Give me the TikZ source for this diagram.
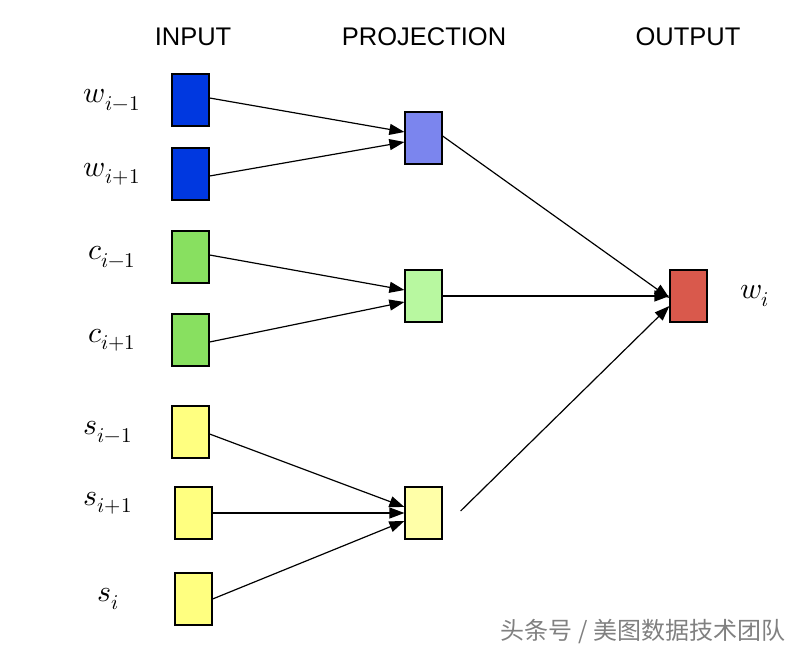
\documentclass[tikz,border=0pt]{standalone}
\usepackage{fontspec}
\setmainfont{Liberation Sans}
\newfontfamily\cjk{Noto Sans CJK SC}
\usepackage{unicode-math}
\setmathfont{Latin Modern Math}
\usetikzlibrary{arrows.meta}
\begin{document}
\begin{tikzpicture}[x=1pt,y=-1pt,
  box/.style={draw=black,line width=1.2pt,minimum width=37pt,minimum height=52pt,inner sep=0pt},
  arr/.style={-{Triangle[length=15pt,width=11pt]},line width=1.2pt},
  head/.style={font=\fontsize{25.5}{27}\selectfont},
  lab/.style={font=\fontsize{30}{32}\selectfont}]
\useasboundingbox (0,0) rectangle (804,652);
\definecolor{cb}{HTML}{0038E0}\definecolor{cpb}{HTML}{7B85EE}
\definecolor{cg}{HTML}{88E060}\definecolor{cpg}{HTML}{B8F8A0}
\definecolor{cy}{HTML}{FFFF80}\definecolor{cpy}{HTML}{FFFFA8}
\definecolor{cr}{HTML}{D9594C}
\node[head] (h1) at (193,37) {INPUT};
\node[head] (h2) at (424,37) {PROJECTION};
\node[head] (h3) at (688,37) {OUTPUT};
\node[box,fill=cb] (a1) at (190.5,100) {};
\node[box,fill=cb] (a2) at (190.5,174) {};
\node[box,fill=cg] (a3) at (190.5,257) {};
\node[box,fill=cg] (a4) at (190.5,340) {};
\node[box,fill=cy] (a5) at (190.5,432) {};
\node[box,fill=cy] (a6) at (193.5,513) {};
\node[box,fill=cy] (a7) at (193.5,599) {};
\node[box,fill=cpb] (p1) at (423.5,138) {};
\node[box,fill=cpg] (p2) at (423.5,296) {};
\node[box,fill=cpy] (p3) at (423.5,513) {};
\node[box,fill=cr] (o) at (688.5,296) {};
\node[lab] (l1) at (112,100) {$w_{i-1}$};
\node[lab] (l2) at (112,174) {$w_{i+1}$};
\node[lab] (l3) at (112,257) {$c_{i-1}$};
\node[lab] (l4) at (112,340) {$c_{i+1}$};
\node[lab] (l5) at (108,432) {$s_{i-1}$};
\node[lab] (l6) at (108,503) {$s_{i+1}$};
\node[lab] (l7) at (108,599) {$s_{i}$};
\node[lab] (lo) at (755,296) {$w_{i}$};
\draw[arr] ([yshift=2pt]a1.east) -- ([yshift=6pt]p1.west);
\draw[arr] ([yshift=-2pt]a2.east) -- ([yshift=-4pt]p1.west);
\draw[arr] ([yshift=2pt]a3.east) -- ([yshift=6pt]p2.west);
\draw[arr] ([yshift=-2pt]a4.east) -- ([yshift=-6pt]p2.west);
\draw[arr] ([yshift=-2pt]a5.east) -- ([yshift=6pt]p3.west);
\draw[arr] (a6.east) -- (p3.west);
\draw[arr] (a7.east) -- ([yshift=-8pt]p3.west);
\draw[arr] ([yshift=2pt]p1.east) -- ([yshift=-2pt]o.west);
\draw[arr] (p2.east) -- (o.west);
\draw[arr] ([xshift=18pt,yshift=2pt]p3.east) -- ([yshift=-10pt]o.west);
\node[font=\cjk\fontsize{24}{26}\selectfont,text=gray] (wm) at (643,632) {头条号 / 美图数据技术团队};
\end{tikzpicture}
\end{document}
